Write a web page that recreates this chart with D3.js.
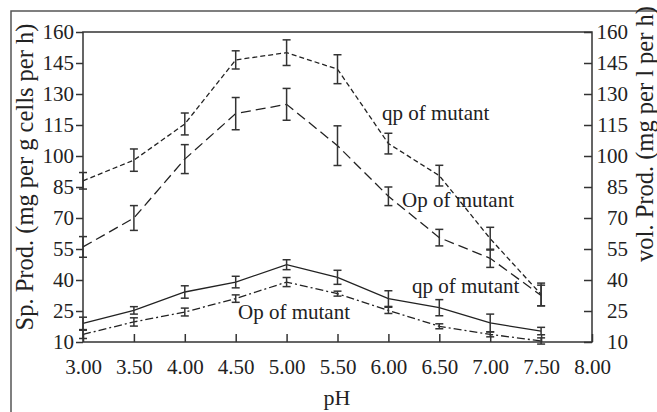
<!DOCTYPE html>
<html>
<head>
<meta charset="utf-8">
<script src="https://cdn.jsdelivr.net/npm/d3@7"></script>
<style>
body{margin:0;background:#fff;}
svg text{font-family:"Liberation Serif","DejaVu Serif",serif;fill:#222;}
</style>
</head>
<body>
<svg id="chart" width="657" height="412"></svg>
<script>
// pH values and the four series
var pH = [3.0, 3.5, 4.0, 4.5, 5.0, 5.5, 6.0, 6.5, 7.0, 7.5];
var qpTop = [88, 98, 115.5, 146.5, 150, 142, 106, 90.5, 60, 33];
var qpTopErr = [4, 5.4, 5.3, 4.4, 6.2, 7, 5, 5, 5.5, 5.5];
var opTop = [56, 70, 98.5, 120.5, 125, 105, 80.5, 60.5, 50.5, 32.5];
var opTopErr = [5, 6, 7, 7.8, 7.7, 9.6, 4.5, 4, 4.4, 5];
var qpLow = [19, 25.3, 34.2, 39, 47.4, 41.3, 31, 26.6, 19.2, 15.3];
var qpLowErr = [3, 1.8, 3, 2.8, 2.4, 3.4, 3.8, 3.9, 4.3, 1.8];
var opLow = [13.7, 19.7, 24.5, 31, 39, 33.4, 25.3, 17.6, 13.7, 10.5];
var opLowErr = [2, 2, 1.9, 1.8, 2.2, 1.2, 1.5, 1.2, 1.2, 1.5];
var xTicks = [3, 3.5, 4, 4.5, 5, 5.5, 6, 6.5, 7, 7.5, 8];
var yTicks = [10, 25, 40, 55, 70, 85, 100, 115, 130, 145, 160];
var seriesLabels = ["qp of mutant", "Op of mutant", "qp of mutant", "Op of mutant"];

var pLeft = 83, pRight = 592, pTop = 32, pBottom = 342;
var svg = d3.select("#chart");
var x = d3.scaleLinear().domain([3, 8]).range([pLeft, pRight]);
var y = d3.scaleLinear().domain([10, 160]).range([pBottom, pTop]);

// outer frame (open on right and bottom)
svg.append("path").attr("d", "M657,11H11V412").attr("fill", "none").attr("stroke", "#555").attr("stroke-width", 1.5);

// plot box
svg.append("rect").attr("x", pLeft).attr("y", pTop).attr("width", pRight - pLeft).attr("height", pBottom - pTop)
  .attr("fill", "none").attr("stroke", "#333").attr("stroke-width", 1.5);

var fs = 21;
var gl = svg.append("g").attr("transform", "translate(" + pLeft + ",0)")
  .call(d3.axisLeft(y).tickValues(yTicks).tickFormat(d3.format("d")).tickSizeInner(7).tickSizeOuter(0).tickPadding(2));
var gr = svg.append("g").attr("transform", "translate(" + pRight + ",0)")
  .call(d3.axisRight(y).tickValues(yTicks).tickFormat(d3.format("d")).tickSizeInner(-8).tickSizeOuter(0));
gr.selectAll(".tick text").attr("x", 36).attr("text-anchor", "end");
var gb = svg.append("g").attr("transform", "translate(0," + pBottom + ")")
  .call(d3.axisBottom(x).tickValues(xTicks).tickFormat(d3.format(".2f")).tickSizeInner(-8).tickSizeOuter(0).tickPadding(17));
[gl, gr, gb].forEach(function(g) {
  g.select(".domain").remove();
  g.selectAll(".tick line").attr("stroke", "#333").attr("stroke-width", 1.5);
  g.selectAll(".tick text").attr("font-size", fs).attr("font-family", null).attr("fill", "#222");
});

// axis titles
svg.append("text").attr("transform", "translate(33,177) rotate(-90)").attr("text-anchor", "middle")
  .attr("font-size", 24.5).text("Sp. Prod. (mg per g cells per h)");
svg.append("text").attr("transform", "translate(653,134) rotate(-90)").attr("text-anchor", "middle")
  .attr("font-size", 24.5).text("vol. Prod. (mg per l per h)");
svg.append("text").attr("x", 337).attr("y", 405).attr("text-anchor", "middle").attr("font-size", 22).text("pH");

var series = [
  {v: qpTop, e: qpTopErr, dash: "5,3"},
  {v: opTop, e: opTopErr, dash: "10,5"},
  {v: qpLow, e: qpLowErr, dash: null},
  {v: opLow, e: opLowErr, dash: "8,3,2,3"}
];
var line = d3.line().x(function(d) { return x(d[0]); }).y(function(d) { return y(d[1]); });

series.forEach(function(s) {
  var pts = pH.map(function(p, i) { return [p, s.v[i], s.e[i]]; });
  svg.append("path").datum(pts).attr("d", line).attr("fill", "none").attr("stroke", "#222")
    .attr("stroke-width", 1.3).attr("stroke-dasharray", s.dash);
  var eb = svg.append("g").selectAll("g").data(pts).enter().append("g");
  eb.append("line").attr("x1", function(d) { return x(d[0]); }).attr("x2", function(d) { return x(d[0]); })
    .attr("y1", function(d) { return y(d[1] - d[2]); }).attr("y2", function(d) { return y(d[1] + d[2]); });
  eb.append("line").attr("x1", function(d) { return x(d[0]) - 4; }).attr("x2", function(d) { return x(d[0]) + 4; })
    .attr("y1", function(d) { return y(d[1] + d[2]); }).attr("y2", function(d) { return y(d[1] + d[2]); });
  eb.append("line").attr("x1", function(d) { return x(d[0]) - 4; }).attr("x2", function(d) { return x(d[0]) + 4; })
    .attr("y1", function(d) { return y(d[1] - d[2]); }).attr("y2", function(d) { return y(d[1] - d[2]); });
  eb.selectAll("line").attr("stroke", "#333").attr("stroke-width", 1.5);
});

// series labels
var labelPos = [[382, 120], [402, 207], [412, 293], [238, 319]];
svg.selectAll("text.lab").data(seriesLabels).enter().append("text").attr("class", "lab")
  .attr("x", function(d, i) { return labelPos[i][0]; }).attr("y", function(d, i) { return labelPos[i][1]; })
  .attr("font-size", fs).text(function(d) { return d; });
</script>
</body>
</html>
